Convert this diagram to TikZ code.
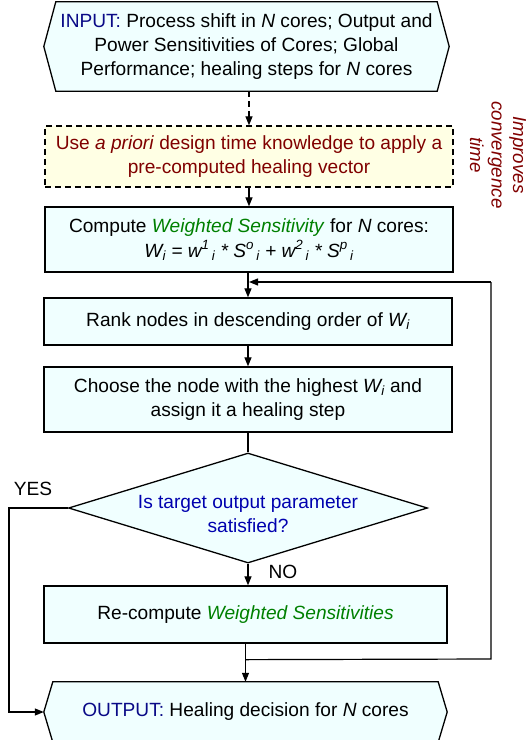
\documentclass[tikz,border=0pt]{standalone}
\usepackage{fontspec}
\setmainfont{Liberation Sans}
\usetikzlibrary{shapes.geometric,arrows.meta,calc,backgrounds}
\definecolor{navyc}{RGB}{10,10,135}
\definecolor{redc}{RGB}{128,0,0}
\definecolor{greenc}{RGB}{0,128,0}
\definecolor{bluec}{RGB}{0,0,175}
\definecolor{boxfill}{RGB}{240,255,255}
\definecolor{yelfill}{RGB}{255,255,228}
\begin{document}
\begin{tikzpicture}[x=1bp,y=-1bp,
  font=\fontsize{19.2}{24.5}\selectfont,
  box/.style={draw, line width=1.3bp, fill=boxfill, align=center, inner sep=0pt},
  hexbox/.style={align=center, inner sep=0pt},
  hexline/.style={draw, line width=1.3bp, fill=boxfill},
  dbox/.style={draw, line width=1.3bp, dash pattern=on 6bp off 4bp, fill=yelfill, align=center, inner sep=0pt, text=redc},
  dec/.style={draw, line width=1.3bp, fill=boxfill, shape=diamond, inner sep=0pt},
  arr/.style={line width=1.2bp, -{Triangle[length=9bp,width=7bp]}},
  ln/.style={line width=1.2bp},
  lbl/.style={inner sep=0pt}
  ]
\useasboundingbox (0,0) rectangle (528,740);

% nodes
\node[hexbox, minimum width=405bp, minimum height=89bp] (in) at (246.5,46.5)
  {\textcolor{navyc}{INPUT:} Process shift in \textit{N} cores; Output and\\
   Power Sensitivities of Cores; Global\\
   Performance; healing steps for \textit{N} cores};
\node[dbox, minimum width=408bp, minimum height=61bp] (pre) at (249,156.5)
  {Use \textit{a priori} design time knowledge to apply a\\ pre-computed healing vector};
\node[lbl, rotate=-90, align=center, text=redc, font=\fontsize{18.8}{21.5}\selectfont\itshape] (imp) at (498,155)
  {Improves\\ convergence\\ time};
\node[box, minimum width=408bp, minimum height=65bp] (comp) at (249,239.5)
  {Compute \textcolor{greenc}{\textit{Weighted Sensitivity}} for \textit{N} cores:\\
   \textit{W\textsubscript{i} = w\textsuperscript{1}\textsubscript{\,i} * S\textsuperscript{o}\textsubscript{\,i} + w\textsuperscript{2}\textsubscript{\,i} * S\textsuperscript{p}\textsubscript{\,i}}};
\node[box, minimum width=408bp, minimum height=47bp] (rank) at (248,321.5)
  {Rank nodes in descending order of \textit{W\textsubscript{i}}};
\node[box, minimum width=408bp, minimum height=65bp] (choose) at (248,399.5)
  {Choose the node with the highest \textit{W\textsubscript{i}} and\\ assign it a healing step};
\node[dec, minimum width=359bp, minimum height=110bp] (q) at (248,508) {};
\node[lbl, align=center, text=bluec] (qt) at (248,514) {Is target output parameter\\ satisfied?};
\node[box, minimum width=403bp, minimum height=57bp] (rec) at (245.5,614.5)
  {Re-compute \textcolor{greenc}{\textit{Weighted Sensitivities}}};
\node[hexbox, minimum width=403bp, minimum height=60bp] (out) at (245.5,712)
  {\textcolor{navyc}{OUTPUT:} Healing decision for \textit{N} cores};
\node[lbl] (yes) at (33,489) {YES};
\node[lbl] (no) at (283,572) {NO};

% hexagon outlines
\begin{scope}[on background layer]
\draw[hexline] (in.west) -- ($(in.north west)+(12,0)$) -- ($(in.north east)+(-12,0)$) -- (in.east)
  -- ($(in.south east)+(-12,0)$) -- ($(in.south west)+(12,0)$) -- cycle;
\draw[hexline] (out.west) -- ($(out.north west)+(9,0)$) -- ($(out.north east)+(-9,0)$) -- (out.east)
  -- ($(out.south east)+(-9,0)$) -- ($(out.south west)+(9,0)$) -- cycle;
\end{scope}

% coordinates for loops
\coordinate (j) at ($(rec.south)+(0,16)$);
\coordinate (rc) at (491,659);
\coordinate (rt) at (491,282);
\coordinate (ent) at (249,282);
\coordinate (yl) at (9,508);

% connectors
\draw[arr, dash pattern=on 6bp off 4bp] (in.south -| pre.north) -- (pre.north);
\draw[arr] (pre.south) -- (comp.north);
\draw[arr] (comp.south -| rank.north) -- (rank.north);
\draw[arr] (rank.south) -- (choose.north);
\draw[ln] (choose.south) -- (q.north);
\draw[arr] (q.south) -- (rec.north -| q.south);
\draw[arr] (rec.south) -- (out.north -| rec.south);
\draw[ln] (j) -- (rc) -- (rt) -- (ent -| rt);
\draw[arr] (rt) -- (ent);
\draw[arr] (q.west) -- (yl) |- (out.west);
\end{tikzpicture}
\end{document}
